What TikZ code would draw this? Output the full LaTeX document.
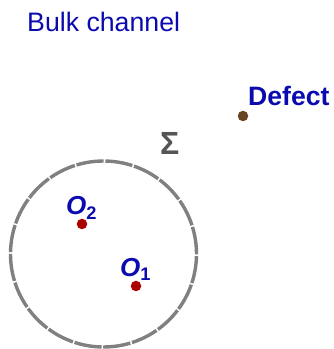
\documentclass[tikz,border=0pt]{standalone}
\usepackage{fontspec}
\setmainfont{Liberation Sans}
\usetikzlibrary{positioning}
\definecolor{labelblue}{RGB}{10,10,175}
\definecolor{pointred}{RGB}{170,0,0}
\definecolor{defectbrown}{RGB}{102,68,34}
\definecolor{sigmagray}{RGB}{85,85,85}
\definecolor{circlegray}{RGB}{128,128,128}
\tikzset{
    dot/.style={circle, fill, inner sep=0pt, minimum size=10.5pt}, % Marked points
    txt/.style={inner sep=0pt, anchor=base west, text=labelblue}, % Labels
}

\begin{document}
\begin{tikzpicture}[x=1pt, y=1pt]
        \useasboundingbox (0,0) rectangle (333,349);
        % Surface
        \draw[circlegray, line width=3.4pt, dash pattern=on 27.5pt off 1.7pt] (103.5,95) circle (93);
        \node (sigma) [txt, text=sigmagray, font=\fontsize{32}{36}\selectfont\bfseries] at (160,194) {Σ};

        % Title
        \node (bulk) [txt, font=\fontsize{26.7}{31}\selectfont] at (27,317) {Bulk channel};

        % Defect
        \node (defect) [dot, fill=defectbrown] at (243,233) {};
        \node (defectlabel) [txt, font=\fontsize{26.6}{31}\selectfont\bfseries] at (248,243) {Defect};

        % Insertions
        \node (o2) [dot, fill=pointred] at (82,125) {};
        \node (o2label) [txt, font=\fontsize{26}{31}\selectfont\bfseries] at (66,134) {\textit{O}\textsubscript{2}};
        \node (o1) [dot, fill=pointred] at (136,63) {};
        \node (o1label) [txt, font=\fontsize{26}{31}\selectfont\bfseries] at (120,72) {\textit{O}\textsubscript{1}};
    \end{tikzpicture}
\end{document}
